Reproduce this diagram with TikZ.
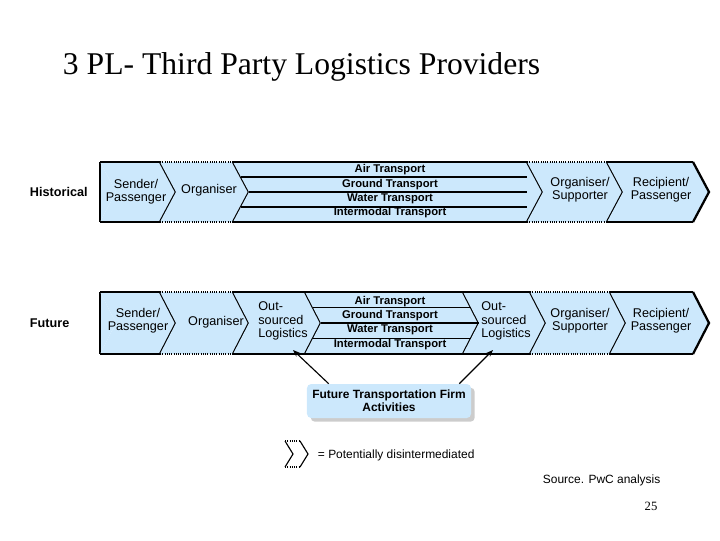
\documentclass[tikz,border=0pt]{standalone}
\usepackage{fontspec}
\setmainfont{Liberation Sans}
\newfontfamily\titlefont{Liberation Serif}
\usetikzlibrary{positioning, shadows, arrows.meta}
\definecolor{chevblue}{RGB}{204, 232, 252}
% one chevron: left x, right x, top y, bottom y, style of top and bottom edges
\newcommand{\chevron}[5]{%
  \fill[chevblue] (#1,#3) -- (#2,#3) -- ({#2+16},{(#3+#4)/2}) -- (#2,#4) -- (#1,#4) -- ({#1+16},{(#3+#4)/2}) -- cycle;
  \draw[#5] (#1,#3) -- (#2,#3) (#1,#4) -- (#2,#4);
  \draw[edge] (#2,#3) -- ({#2+16},{(#3+#4)/2}) -- (#2,#4);
}
\begin{document}
\begin{tikzpicture}[x=0.025cm, y=-0.025cm,
    edge/.style={line width=1.6pt, line join=miter},
    solid edge/.style={line width=1.2pt},
    dotted edge/.style={line width=1.2pt, dash pattern=on 0.8pt off 0.8pt},
    label/.style={font=\fontsize{9}{9.5}\selectfont, align=center, inner sep=1pt},
    stripe/.style={font=\fontsize{8}{8.6}\selectfont\bfseries, inner sep=0pt},
    row/.style={font=\fontsize{9}{10}\selectfont\bfseries, anchor=west},
    callout/.style={rounded corners=3pt, fill=chevblue, drop shadow={opacity=0.4},
                    font=\fontsize{8.5}{9.5}\selectfont\bfseries, align=center,
                    minimum width=4.1cm, minimum height=0.85cm},
    arrow/.style={-{Stealth[length=5pt]}, thick}
]
    \useasboundingbox (0,0) rectangle (720,540);

    % Title
    \node[anchor=west, font=\titlefont\fontsize{22.5}{26}\selectfont] (title) at (58,67) {3 PL- Third Party Logistics Providers};

    % Row labels
    \node[row] (historical) at (25,192) {Historical};
    \node[row] (future) at (25,323) {Future};

    % Historical row
    \fill[chevblue] (100,162) -- (100,222) -- (116,192) -- cycle;
    \draw[solid edge] (100,162) -- (100,222);
    \chevron{100}{160}{162}{222}{solid edge}
    \chevron{160}{233}{162}{222}{dotted edge}
    \chevron{233}{527}{162}{222}{solid edge}
    \chevron{527}{607}{162}{222}{dotted edge}
    \chevron{607}{693}{162}{222}{solid edge}
    \foreach \x/\y in {241/177,249/192,241/207} \draw[thick] (\x,\y) -- (527,\y);
    \node[label] (hsender) at (136,192) {Sender/\\Passenger};
    \node[label] (horganiser) at (209,190) {Organiser};
    \node[stripe] (hair) at (390,170) {Air Transport};
    \node[stripe] (hground) at (390,185) {Ground Transport};
    \node[stripe] (hwater) at (390,199) {Water Transport};
    \node[stripe] (hintermodal) at (390,213) {Intermodal Transport};
    \node[label] (hsupporter) at (580,190) {Organiser/\\Supporter};
    \node[label] (hrecipient) at (661,190) {Recipient/\\Passenger};

    % Future row
    \fill[chevblue] (100,292) -- (100,354) -- (116,323) -- cycle;
    \draw[solid edge] (100,292) -- (100,354);
    \chevron{100}{160}{292}{354}{solid edge}
    \chevron{160}{233}{292}{354}{dotted edge}
    \chevron{233}{305}{292}{354}{solid edge}
    \chevron{305}{463}{292}{354}{solid edge}
    \chevron{463}{530}{292}{354}{solid edge}
    \chevron{530}{610}{292}{354}{dotted edge}
    \chevron{610}{693}{292}{354}{solid edge}
    \foreach \x/\y in {313/307.5,321/323,313/338.5} \draw[thick] (\x,\y) -- ({\x+158},\y);
    \node[label] (fsender) at (138,321) {Sender/\\Passenger};
    \node[label] (forganiser) at (216,322) {Organiser};
    \node[label, align=left] (foutsourced) at (283,321) {Out-\\sourced\\Logistics};
    \node[stripe] (fair) at (390,302) {Air Transport};
    \node[stripe] (fground) at (390,316) {Ground Transport};
    \node[stripe] (fwater) at (390,330) {Water Transport};
    \node[stripe] (fintermodal) at (390,345) {Intermodal Transport};
    \node[label, align=left] (foutsourced2) at (506,321) {Out-\\sourced\\Logistics};
    \node[label] (fsupporter) at (580,321) {Organiser/\\Supporter};
    \node[label] (frecipient) at (661,321) {Recipient/\\Passenger};

    % Callout
    \node[callout] (firm) at (389,401) {Future Transportation Firm\\Activities};
    \coordinate (lefttip) at (293,350);
    \coordinate (righttip) at (493,350);
    \draw[arrow] ([xshift=0.55cm]firm.north west) -- (lefttip);
    \draw[arrow] ([xshift=-0.3cm]firm.north east) -- (righttip);

    % Legend
    \draw[dotted edge] (285,441) -- (300,441) (285,467) -- (300,467);
    \draw[line width=0.8pt] (285,441) -- (293,454) -- (285,467) (300,441) -- (308,454) -- (300,467);
    \node[anchor=west, font=\fontsize{8.5}{9}\selectfont] (legend) at (313,455) {= Potentially disintermediated};

    % Footer
    \node[anchor=west, font=\fontsize{8.5}{9}\selectfont] (source) at (538,480) {Source. PwC analysis};
    \node[font=\titlefont\fontsize{9}{10}\selectfont] (page) at (651,506) {25};
\end{tikzpicture}
\end{document}
